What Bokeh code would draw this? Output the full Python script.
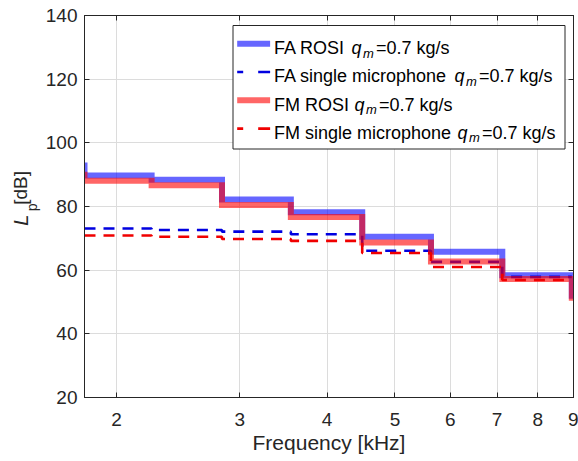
import math
from bokeh.plotting import figure
from bokeh.layouts import row
from bokeh.models import (Range1d, FixedTicker, LogAxis, LinearAxis, Label,
                          BoxAnnotation)
from bokeh.embed import file_html
from bokeh.resources import INLINE

# ---------------- data ----------------
band_edges_khz = [1.80, 2.245, 2.83, 3.55, 4.49, 5.63, 7.12, 8.95]
fa_rosi = [89.7, 88.4, 82.2, 78.2, 70.5, 65.8, 58.4]
fm_rosi = [88.1, 86.7, 80.5, 76.7, 68.7, 62.7, 57.2]
fa_single = [73.1, 72.6, 72.1, 71.3, 66.1, 62.6, 57.9]
fm_single = [70.9, 70.5, 69.8, 69.2, 65.4, 61.0, 56.9]
fa_rosi_ends = [93.8, 51.0]
fm_rosi_ends = [90.9, 50.4]

x_ticks = [2, 3, 4, 5, 6, 7, 8, 9]
y_ticks = [20, 40, 60, 80, 100, 120, 140]
x_lim = (1.8, 9.0)
y_lim = (20, 140)

legend_labels = ["FA ROSI ", "FA single microphone ", "FM ROSI ", "FM single microphone "]
legend_suffix = "=0.7 kg/s"

# ---------------- layout ----------------
W, H = 578, 461
LW = 42                      # width of the strip holding the y label
ML, MR, MT, MB = 83, 5, 15, 64   # frame margins in page pixels
FW, FH = W - ML - MR, H - MT - MB
FONT = "Liberation Sans"
AX = "#262626"

# strip with the rotated y-axis label
ylab = figure(width=LW, height=H, x_range=Range1d(0, LW), y_range=Range1d(0, H),
              output_backend="svg", toolbar_location=None,
              min_border=0, x_axis_location=None, y_axis_location=None)
ylab.outline_line_color = None
ylab.xgrid.visible = False
ylab.ygrid.visible = False
ylab.background_fill_color = "white"
ylab.border_fill_color = "white"

YOFF = 21


def ylabel_piece(cx, cy, text, size, style="normal"):
    ylab.add_layout(Label(x=cx, y=H - cy - YOFF, text=text, angle=math.pi / 2,
                          text_font=FONT, text_font_size=size,
                          text_font_style=style, text_color="#262626",
                          text_baseline="middle", text_align="center"))


ylabel_piece(20, 226, "L", "20px", "italic")
ylabel_piece(31.5, 210.5, "p", "14px")
ylabel_piece(20, 187, "[dB]", "19px")

p = figure(width=W - LW, height=H, x_axis_type="log",
           x_range=Range1d(*x_lim), y_range=Range1d(*y_lim),
           output_backend="svg", toolbar_location=None,
           min_border_left=ML - LW, min_border_right=MR,
           min_border_top=MT, min_border_bottom=MB)
p.background_fill_color = "white"
p.border_fill_color = "white"
p.outline_line_color = AX
p.outline_line_width = 1


def stairs(edges, vals, ends=None):
    xs, ys = [], []
    if ends:
        xs.append(edges[0]); ys.append(ends[0])
    for i, v in enumerate(vals):
        xs += [edges[i], edges[i + 1]]
        ys += [v, v]
    if ends:
        xs.append(edges[-1]); ys.append(ends[1])
    return xs, ys


BLUE_A = "#0000FF"
RED_A = "#FF0000"
DBLUE = "#0000E0"
DRED = "#F00000"
DASH = "11 8"

x, y = stairs(band_edges_khz, fa_rosi, fa_rosi_ends)
p.line(x, y, line_color=BLUE_A, line_alpha=0.6, line_width=6, line_join="miter")
x, y = stairs(band_edges_khz, fa_single)
p.line(x, y, line_color=DBLUE, line_width=2.6, line_dash=DASH)
x, y = stairs(band_edges_khz, fm_rosi, fm_rosi_ends)
p.line(x, y, line_color=RED_A, line_alpha=0.6, line_width=6, line_join="miter")
x, y = stairs(band_edges_khz, fm_single)
p.line(x, y, line_color=DRED, line_width=2.6, line_dash=DASH)

# ---------------- axes ----------------
xt = FixedTicker(ticks=x_ticks, minor_ticks=[])
yt = FixedTicker(ticks=y_ticks, minor_ticks=[])
xa = p.xaxis[0]
ya = p.yaxis[0]
xa.ticker = xt
ya.ticker = yt
xa.major_label_overrides = {t: str(t) for t in x_ticks}
p.xgrid.ticker = xt
p.ygrid.ticker = yt
for g in (p.xgrid[0], p.ygrid[0]):
    g.grid_line_color = "#dcdcdc"
    g.grid_line_width = 1

for a in (xa, ya):
    a.axis_line_color = AX
    a.major_tick_line_color = AX
    a.major_tick_in = 5
    a.major_tick_out = 0
    a.minor_tick_line_color = None
    a.major_label_text_font = FONT
    a.major_label_text_font_size = "19px"
    a.major_label_text_color = "#262626"
xa.major_label_standoff = 15
ya.major_label_standoff = 7
xa.axis_label = "Frequency [kHz]"
xa.axis_label_text_font = FONT
xa.axis_label_text_font_size = "21px"
xa.axis_label_text_font_style = "normal"
xa.axis_label_text_color = "#262626"
xa.axis_label_standoff = 2

top = LogAxis(ticker=xt, major_tick_in=5, major_tick_out=0,
              major_tick_line_color=AX, minor_tick_line_color=None,
              axis_line_color=AX, major_label_text_font_size="0px",
              major_label_standoff=0,
              major_label_overrides={t: "" for t in x_ticks})
right = LinearAxis(ticker=yt, major_tick_in=5, major_tick_out=0,
                   major_tick_line_color=AX, minor_tick_line_color=None,
                   axis_line_color=AX, major_label_text_font_size="0px",
                   major_label_standoff=0,
                   major_label_overrides={t: "" for t in y_ticks})
p.add_layout(top, "above")
p.add_layout(right, "right")


# ---------------- legend ----------------
def sx(img_x):
    return img_x - ML


def sy(img_y):
    return (H - MB) - img_y


box = BoxAnnotation(left=sx(231.5), right=sx(563.5), top=sy(25), bottom=sy(148.5),
                    left_units="screen", right_units="screen",
                    top_units="screen", bottom_units="screen",
                    fill_color="white", fill_alpha=1.0,
                    line_color=AX, line_width=1, line_alpha=1.0,
                    level="annotation")
p.add_layout(box)


def data_x(img_x):
    l0, l1 = math.log10(x_lim[0]), math.log10(x_lim[1])
    return 10 ** (l0 + (img_x - ML) / FW * (l1 - l0))


def data_y(img_y):
    return y_lim[0] + ((H - MB) - img_y) / FH * (y_lim[1] - y_lim[0])


row_y = [43.3, 71.5, 99.8, 128.1]
styles = [
    dict(line_color=BLUE_A, line_alpha=0.6, line_width=6),
    dict(line_color=DBLUE, line_width=2.6, line_dash="6 15 12 40"),
    dict(line_color=RED_A, line_alpha=0.6, line_width=6),
    dict(line_color=DRED, line_width=2.6, line_dash="6 15 12 40"),
]
q_x = [350, 453, 353, 456]
for i, ry in enumerate(row_y):
    r = p.line([data_x(236), data_x(269)], [data_y(ry), data_y(ry)], **styles[i])
    r.level = "overlay"
    base = ry + 4.2
    p.add_layout(Label(x=sx(272.5), y=sy(base), x_units="screen", y_units="screen",
                       text=legend_labels[i], text_font=FONT, text_font_size="18px",
                       text_color="black", text_baseline="alphabetic",
                       level="overlay"))
    p.add_layout(Label(x=sx(q_x[i]), y=sy(base), x_units="screen", y_units="screen",
                       text="q", text_font=FONT, text_font_size="18px",
                       text_font_style="italic",
                       text_color="black", text_baseline="alphabetic",
                       level="overlay"))
    p.add_layout(Label(x=sx(q_x[i] + 11.5), y=sy(base + 5), x_units="screen",
                       y_units="screen", text="m", text_font=FONT,
                       text_font_size="13px", text_font_style="italic",
                       text_color="black", text_baseline="alphabetic",
                       level="overlay"))
    p.add_layout(Label(x=sx(q_x[i] + 24.5), y=sy(base), x_units="screen",
                       y_units="screen", text=legend_suffix, text_font=FONT,
                       text_font_size="18px", text_color="black",
                       text_baseline="alphabetic", level="overlay"))

layout = row(ylab, p, spacing=0)
open("out.html", "w").write(file_html(layout, INLINE))
